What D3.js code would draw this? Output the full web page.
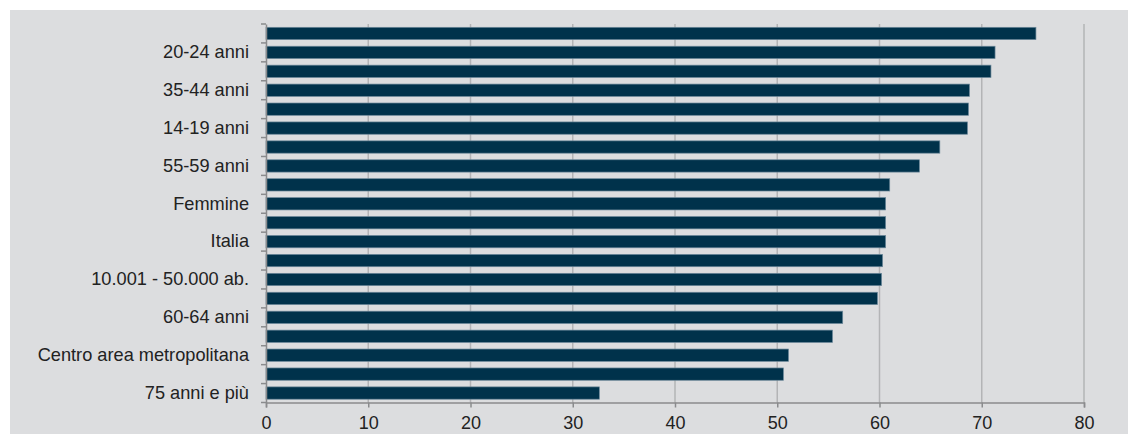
<!DOCTYPE html>
<html><head><meta charset="utf-8">
<script src="https://cdn.jsdelivr.net/npm/d3@7"></script>
<style>html,body{margin:0;padding:0;background:#fff;}svg{display:block;}</style>
</head><body>
<svg id="c" width="1128" height="434"></svg>
<script>
const categories = ["25-34 anni","20-24 anni","45-54 anni","35-44 anni","Periferia area metropolitana","14-19 anni","Fino a 2.000 ab.","55-59 anni","Maschi","Femmine","50.001 ab. e più","Italia","2.001 - 10.000 ab.","10.001 - 50.000 ab.","Nord","60-64 anni","Sud","Centro area metropolitana","65-74 anni","75 anni e più"];
const values = [75.3,71.3,70.9,68.8,68.7,68.6,65.9,63.9,61.0,60.6,60.6,60.6,60.3,60.2,59.8,56.4,55.4,51.1,50.6,32.6];
const xTicks = [0,10,20,30,40,50,60,70,80];

(function(){
const svg = d3.select("#c");
const font = "'Liberation Sans', Arial, sans-serif";
svg.append("rect").attr("x",10).attr("y",10).attr("width",1118).attr("height",424).attr("fill","#dcdddf");

const pL = 266, pR = 1084, pT = 24, pB = 402.5;
const x = d3.scaleLinear().domain([0,80]).range([pL,pR]);
const y = d3.scaleBand().domain(categories).range([pT,pB]).paddingInner(0.35).paddingOuter(0.175);

// gridlines
svg.append("g").selectAll("line").data(xTicks.slice(1)).join("line")
  .attr("x1",d=>x(d)).attr("x2",d=>x(d)).attr("y1",pT).attr("y2",pB)
  .attr("stroke","#b3b4b6").attr("stroke-width",1.5);

// bars
svg.append("g").selectAll("rect").data(categories).join("rect")
  .attr("x",x(0)).attr("y",d=>y(d)).attr("height",y.bandwidth())
  .attr("width",(d,i)=>x(values[i])-x(0))
  .attr("fill","#00324b").attr("stroke","#6a8799").attr("stroke-width",0.7);

// x axis
const xa = svg.append("g").attr("transform",`translate(0,${pB})`)
  .call(d3.axisBottom(x).tickValues(xTicks).tickSize(5).tickPadding(9));
xa.select(".domain").attr("stroke","#8a8b8d").attr("stroke-width",1.5);
xa.selectAll(".tick line").attr("stroke","#8a8b8d").attr("stroke-width",1.5);
xa.selectAll("text").attr("font-family",font).attr("font-size",18).attr("fill","#222");

// y axis
const ya = svg.append("g").attr("transform",`translate(${pL},0)`)
  .call(d3.axisLeft(y).tickSize(0).tickPadding(17).tickFormat((d,i)=> i%2===1 ? d : ""));
ya.select(".domain").attr("stroke","#8a8b8d").attr("stroke-width",1.5);
ya.selectAll("text").attr("font-family",font).attr("font-size",18.2).attr("fill","#222");

// category boundary ticks
const bounds = d3.range(categories.length+1).map(i => pT + i*(pB-pT)/categories.length);
svg.append("g").selectAll("line").data(bounds).join("line")
  .attr("x1",pL-5).attr("x2",pL).attr("y1",d=>d).attr("y2",d=>d)
  .attr("stroke","#8a8b8d").attr("stroke-width",1.5);
})();
</script>
</body></html>
